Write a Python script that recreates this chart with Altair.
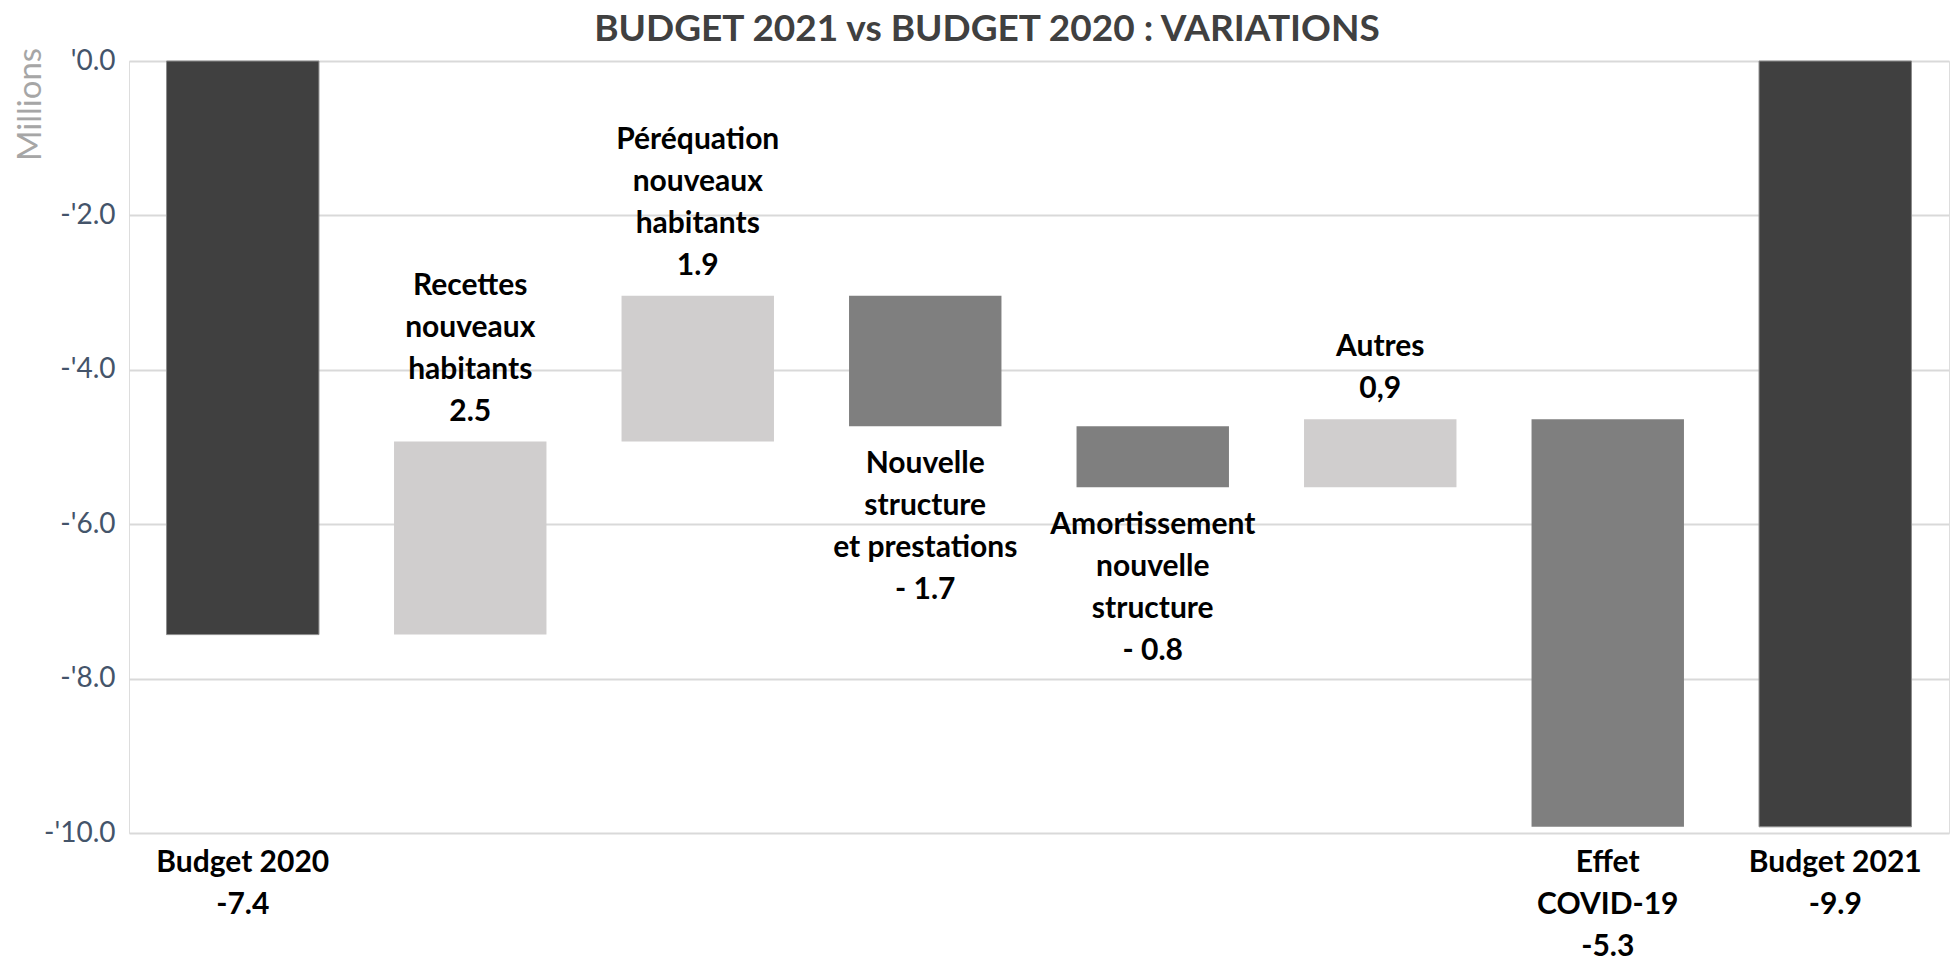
import altair as alt
import pandas as pd

# ---- data ----
categories = [
    "Budget 2020",
    "Recettes nouveaux habitants",
    "Péréquation nouveaux habitants",
    "Nouvelle structure et prestations",
    "Amortissement nouvelle structure",
    "Autres",
    "Effet COVID-19",
    "Budget 2021",
]
bar_start = [0.0, -7.43, -4.93, -3.04, -4.73, -5.52, -4.64, 0.0]
bar_end = [-7.43, -4.93, -3.04, -4.73, -5.52, -4.64, -9.92, -9.92]
bar_kind = ["total", "hausse", "hausse", "baisse", "baisse", "hausse", "baisse", "total"]
labels = [
    "Budget 2020\n-7.4",
    "Recettes\nnouveaux\nhabitants\n2.5",
    "Péréquation\nnouveaux\nhabitants\n1.9",
    "Nouvelle\nstructure\net prestations\n- 1.7",
    "Amortissement\nnouvelle\nstructure\n- 0.8",
    "Autres\n0,9",
    "Effet\nCOVID-19\n-5.3",
    "Budget 2021\n-9.9",
]
label_place = ["axe", "dessus", "dessus", "dessous", "dessous", "dessus", "axe", "axe"]
y_ticks = [0, -2, -4, -6, -8, -10]
y_domain = [-10, 0]

df = pd.DataFrame({
    "cat": categories,
    "start": bar_start,
    "end": bar_end,
    "kind": bar_kind,
    "label": labels,
    "place": label_place,
})
df["top"] = df[["start", "end"]].max(axis=1)
df["bottom"] = df[["start", "end"]].min(axis=1)
df["axis_y"] = y_domain[0]
df["nlines"] = df["label"].str.count("\n") + 1

FONT = "Lato"
LINE_H = 42

x_enc = alt.X(
    "cat:N", sort=categories, axis=None,
    scale=alt.Scale(paddingInner=0.33, paddingOuter=0.165),
)

base = alt.Chart(df)

bars = base.mark_bar(strokeWidth=1).encode(
    x=x_enc,
    y=alt.Y(
        "start:Q",
        scale=alt.Scale(domain=y_domain, nice=False, zero=False),
        axis=alt.Axis(
            values=y_ticks,
            labelExpr="datum.value == 0 ? \"'0.0\" : \"-'\" + format(-datum.value, '.1f')",
            grid=True, gridColor="#d9d9d9", gridWidth=2,
            domain=False, ticks=False,
            labelFont=FONT, labelFontSize=28, labelColor="#44546a", labelPadding=14,
            title="Millions", titleX=-99, titleY=43, titleAngle=270,
            titleAlign="center", titleBaseline="middle",
            titleColor="#a6a6a6", titleFont=FONT, titleFontSize=33, titleFontWeight="normal",
        ),
    ),
    y2="end:Q",
    color=alt.Color(
        "kind:N",
        scale=alt.Scale(domain=["total", "hausse", "baisse"],
                        range=["#404040", "#d0cece", "#7f7f7f"]),
        legend=None,
    ),
    stroke=alt.condition("datum.kind === 'total'", alt.value("#8c8c8c"), alt.value("transparent")),
)

txt_kw = dict(font=FONT, fontSize=30, fontWeight="bold", color="#000000",
              lineBreak="\n", lineHeight=LINE_H, align="center")

layers = [bars]

# labels above the bars: last line ends ~21px above the bar top
for n in sorted(df.loc[df["place"] == "dessus", "nlines"].unique()):
    layers.append(
        base.transform_filter(f"datum.place === 'dessus' && datum.nlines === {int(n)}")
        .mark_text(baseline="alphabetic", dy=-21 - (int(n) - 1) * LINE_H, **txt_kw)
        .encode(x=x_enc, y="top:Q", text="label:N")
    )

# labels under the bars
layers.append(
    base.transform_filter("datum.place === 'dessous'").mark_text(
        baseline="top", dy=23, **txt_kw
    ).encode(x=x_enc, y="bottom:Q", text="label:N")
)

# labels under the axis
layers.append(
    base.transform_filter("datum.place === 'axe'").mark_text(
        baseline="top", dy=15, **txt_kw
    ).encode(x=x_enc, y="axis_y:Q", text="label:N")
)

chart = alt.layer(*layers).properties(
    width=1820,
    height=772,
    autosize=alt.AutoSizeParams(type="none"),
    padding={"left": 129, "top": 61, "right": 4, "bottom": 130},
    title=alt.TitleParams(
        "BUDGET 2021 vs BUDGET 2020 : VARIATIONS",
        font=FONT, fontSize=37, fontWeight="bold", color="#404040",
        anchor="middle", dx=-52, dy=39, baseline="alphabetic", offset=8,
    ),
).configure_view(stroke=None).configure(background="white")

chart.save("out.html", embed_options={"renderer": "svg", "actions": False})
